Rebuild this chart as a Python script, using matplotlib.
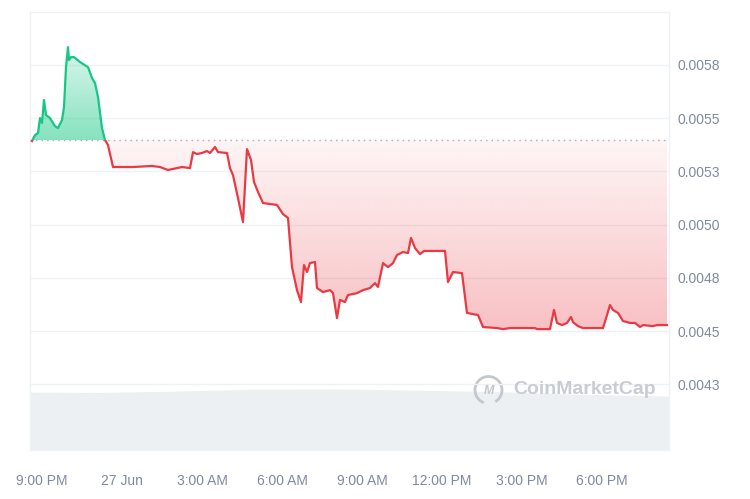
import numpy as np
import matplotlib
matplotlib.use('Agg')
from matplotlib import pyplot as plt
from matplotlib.patches import Rectangle, Arc
from matplotlib.path import Path
import matplotlib.colors as colors

# hours after 9:00 PM (26 Jun) and price in USD
hours = [-0.375, -0.2625, -0.15, -0.075, 0.0, 0.075, 0.15, 0.30, 0.4875, 0.60, 0.75, 0.825,
         0.90, 0.975, 1.0125, 1.0875, 1.20, 1.425, 1.725, 1.875, 1.9875, 2.10, 2.25, 2.3625,
         2.475, 2.6625, 3.4125, 4.125, 4.425, 4.725, 5.0625, 5.25, 5.55, 5.6625, 5.8125, 6.0,
         6.1875, 6.30, 6.4875, 6.60, 6.9375, 7.05, 7.1625, 7.35, 7.5375, 7.6875, 7.8375, 7.95,
         8.10, 8.2875, 8.8125, 9.0375, 9.225, 9.375, 9.5625, 9.7125, 9.825, 9.9375, 10.05,
         10.2375, 10.3125, 10.5375, 10.80, 10.9125, 11.0625, 11.175, 11.3625, 11.475, 11.8125,
         12.0375, 12.30, 12.4875, 12.60, 12.7875, 12.975, 13.1625, 13.3125, 13.5375, 13.725,
         13.8375, 13.9875, 14.175, 14.325, 15.1125, 15.225, 15.4125, 15.75, 15.9375, 16.35,
         16.5375, 17.0625, 17.2875, 17.55, 18.4875, 18.5625, 19.05, 19.20, 19.3125, 19.50,
         19.6875, 19.8375, 19.9125, 20.10, 20.2875, 21.0375, 21.1875, 21.30, 21.4125, 21.60,
         21.7875, 22.05, 22.2375, 22.425, 22.5375, 22.9125, 23.0625, 23.4375]
price = [0.005392, 0.005420, 0.005430, 0.005500, 0.005477, 0.005585, 0.005514, 0.005500,
         0.005462, 0.005453, 0.005491, 0.005552, 0.005739, 0.005833, 0.005772, 0.005786,
         0.005786, 0.005763, 0.005739, 0.005688, 0.005664, 0.005599, 0.005453, 0.005397,
         0.005373, 0.005270, 0.005270, 0.005275, 0.005270, 0.005256, 0.005265, 0.005270,
         0.005265, 0.005340, 0.005331, 0.005336, 0.005345, 0.005336, 0.005364, 0.005340,
         0.005336, 0.005265, 0.005232, 0.005124, 0.005012, 0.005354, 0.005303, 0.005200,
         0.005153, 0.005101, 0.005092, 0.005049, 0.005031, 0.004800, 0.004692, 0.004636,
         0.004810, 0.004777, 0.004819, 0.004824, 0.004702, 0.004683, 0.004692, 0.004678,
         0.004561, 0.004646, 0.004636, 0.004669, 0.004678, 0.004692, 0.004702, 0.004725,
         0.004707, 0.004819, 0.004800, 0.004819, 0.004857, 0.004871, 0.004866, 0.004937,
         0.004890, 0.004861, 0.004876, 0.004876, 0.004730, 0.004777, 0.004772, 0.004585,
         0.004575, 0.004519, 0.004514, 0.004509, 0.004514, 0.004514, 0.004509, 0.004509,
         0.004599, 0.004538, 0.004528, 0.004538, 0.004566, 0.004542, 0.004523, 0.004514,
         0.004514, 0.004575, 0.004622, 0.004599, 0.004585, 0.004547, 0.004538, 0.004538,
         0.004519, 0.004528, 0.004523, 0.004528, 0.004528]
open_price = 0.005397

# volume band at the bottom (thousand USD)
vol_hours = [-0.45, 2.0, 5.0, 8.0, 11.0, 14.0, 17.0, 20.0, 23.51]
volume = [580, 575, 590, 610, 612, 600, 585, 560, 540]

x_ticks = [0, 3, 6, 9, 12, 15, 18, 21]
x_labels = ['9:00 PM', '27 Jun', '3:00 AM', '6:00 AM', '9:00 AM', '12:00 PM', '3:00 PM', '6:00 PM']
y_ticks = [0.00425, 0.0045, 0.00475, 0.0050, 0.00525, 0.0055, 0.00575]
y_labels = ['0.0043', '0.0045', '0.0048', '0.0050', '0.0053', '0.0055', '0.0058']

GREEN = '#16c784'
RED = '#ea3943'
GRID = '#eff2f5'
LABEL = '#808a9d'

plt.rcParams['font.family'] = ['Liberation Sans', 'DejaVu Sans']

fig = plt.figure(figsize=(7.5, 4.99), dpi=100)
ax = fig.add_axes([0.04, 0.098, 0.852, 0.878])
xlim = (-0.45, 23.5125)
ylim = (0.003941, 0.005998)

# volume on a hidden twin axis
axv = ax.twinx()
axv.fill_between(vol_hours, 0, volume, color='#edf0f3', lw=0, zorder=0)
axv.set_ylim(0, 4380)
axv.set_yticks([])
for s in axv.spines.values():
    s.set_visible(False)

ax.set_zorder(axv.get_zorder() + 1)
ax.patch.set_visible(False)

x = np.array(hours)
y = np.array(price)


def gradient_fill(where_mask, rgb, a_far, a_near, y0, y1):
    # gradient image clipped to the area between the line and the open price
    poly = ax.fill_between(x, y, open_price, where=where_mask, interpolate=True,
                           color='none', lw=0)
    n = 256
    img = np.zeros((n, 1, 4))
    img[:, :, :3] = colors.to_rgb(rgb)
    img[:, :, 3] = np.linspace(a_near, a_far, n)[:, None]
    im = ax.imshow(img, aspect='auto', extent=[xlim[0], xlim[1], y0, y1],
                   origin='lower', zorder=1, interpolation='bilinear')
    paths = poly.get_paths()
    verts = np.concatenate([p.vertices for p in paths])
    codes = np.concatenate([p.codes if p.codes is not None else
                            np.r_[Path.MOVETO, [Path.LINETO] * (len(p.vertices) - 1)]
                            for p in paths])
    im.set_clip_path(Path(verts, codes), ax.transData)


gradient_fill(y >= open_price, GREEN, 0.14, 0.52, open_price, 0.00585)
gradient_fill(y <= open_price, RED, 0.05, 0.32, 0.00450, open_price)

# line, green above the open price, red below
for col, lo, hi in [(GREEN, open_price, ylim[1]), (RED, ylim[0], open_price)]:
    ln, = ax.plot(x, y, color=col, lw=1.6, zorder=4, solid_joinstyle='round')
    rect = Rectangle((xlim[0], lo), xlim[1] - xlim[0], hi - lo, transform=ax.transData)
    ln.set_clip_path(rect)

ax.axhline(open_price, color='#a6acb6', lw=1, ls=(0, (1, 3)), zorder=3)

ax.set_xlim(*xlim)
ax.set_ylim(*ylim)
ax.set_xticks(x_ticks)
ax.set_xticklabels(x_labels)
ax.set_yticks(y_ticks)
ax.set_yticklabels(y_labels)
ax.yaxis.tick_right()
ax.tick_params(axis='both', length=0, colors=LABEL, labelsize=10)
ax.tick_params(axis='x', pad=17)
ax.tick_params(axis='y', pad=6)
ax.grid(axis='y', color=GRID, lw=1)
ax.set_axisbelow(True)
for s in ax.spines.values():
    s.set_color(GRID)
    s.set_linewidth(1)

# watermark
fig.text(513 / 750, 1 - 390 / 499, 'CoinMarketCap', fontsize=14, color='#c3c7ce',
         ha='left', va='center', fontweight='bold', alpha=0.9)
fig.add_artist(Arc((4.885, 4.99 - 3.90), 0.27, 0.27, theta1=-60, theta2=250,
                   transform=fig.dpi_scale_trans, color='#c3c7ce', lw=2))
fig.text(488.5 / 750, 1 - 391 / 499, 'M', fontsize=9, color='#c3c7ce', ha='center',
         va='center', fontweight='bold', fontstyle='italic')

fig.savefig('out.png', dpi=100, facecolor='white')
